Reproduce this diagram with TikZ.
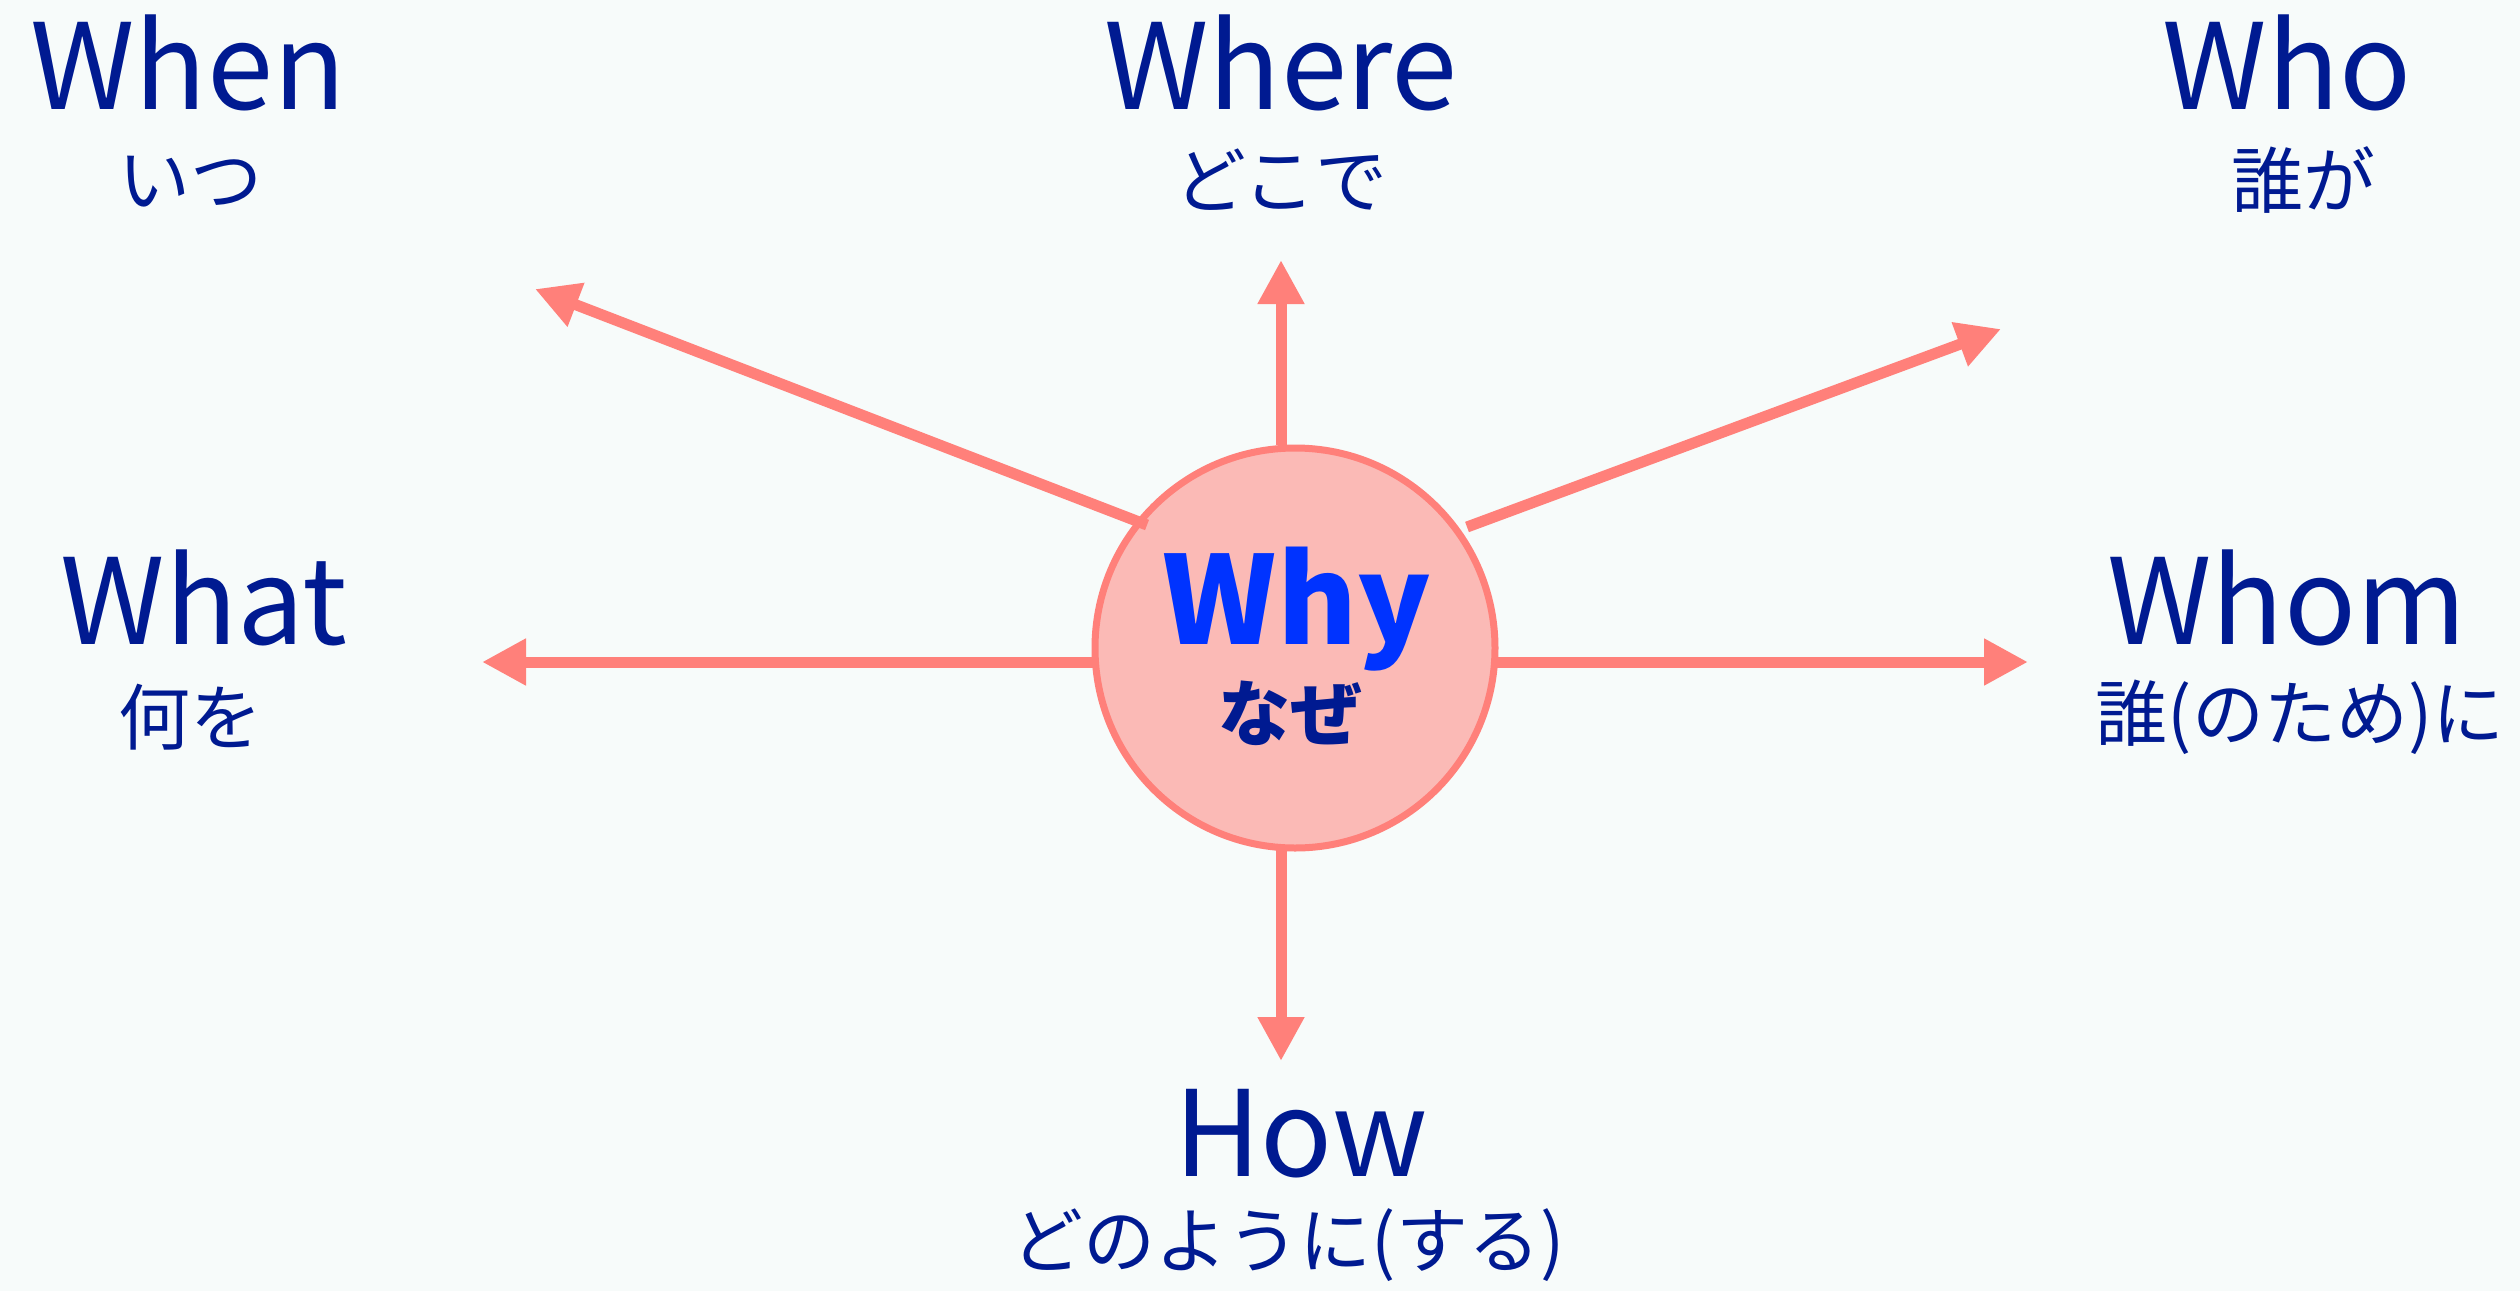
\documentclass[tikz,border=0pt]{standalone}
\usepackage{fontspec}
\setmainfont{Noto Sans CJK JP}
\usetikzlibrary{arrows.meta}
\definecolor{bg}{RGB}{247,251,250}
\definecolor{navy}{RGB}{0,26,145}
\definecolor{whyblue}{RGB}{0,51,255}
\definecolor{arr}{RGB}{255,128,122}
\definecolor{cfill}{RGB}{251,186,182}
\begin{document}
\begin{tikzpicture}[x=1pt,y=-1pt,
  en/.style={text=navy, font=\fontsize{119}{119}\selectfont, inner sep=0pt, anchor=base},
  jp/.style={text=navy, font=\fontsize{72}{72}\selectfont, inner sep=0pt, anchor=center},
  link/.style={draw=arr, line width=11pt, -{Triangle[length=44pt,width=44pt]}}]
\fill[bg] (0,0) rectangle (2520,1291);
\useasboundingbox (0,0) rectangle (2520,1291);

% centre circle
\node[circle, draw=arr, fill=cfill, line width=7pt, minimum size=400pt, inner sep=0pt] (why) at (1295,648) {};
\node[text=whyblue, font=\fontsize{122}{122}\selectfont\bfseries, inner sep=0pt, anchor=base] (whyen) at (1297,644) {Why};
\node[text=navy, font=\fontsize{72}{72}\selectfont\bfseries, inner sep=0pt, anchor=center] (whyjp) at (1290,713) {なぜ};

% labels
\node[en] (when) at (188,109) {When};
\node[jp] (whenjp) at (190,182) {いつ};
\node[en] (where) at (1281,109) {Where};
\node[jp] (wherejp) at (1281,180) {どこで};
\node[en] (who) at (2287,109) {Who};
\node[jp] (whojp) at (2303,180) {誰が};
\node[en] (what) at (204,644) {What};
\node[jp] (whatjp) at (190,717) {何を};
\node[en] (whom) at (2287,644) {Whom};
\node[jp] (whomjp) at (2300,717) {誰(のため)に};
\node[en] (how) at (1301,1176) {How};
\node[jp] (howjp) at (1288,1245) {どのように(する)};

% connector end points
\coordinate (ulS) at (1147,525);  \coordinate (ulT) at (535,289);
\coordinate (urS) at (1467,527);  \coordinate (urT) at (2001,329);
\coordinate (upS) at (1281,445);  \coordinate (upT) at (1281,260);
\coordinate (dnS) at (1281,848);  \coordinate (dnT) at (1281,1061);
\coordinate (lfS) at (1094,662);  \coordinate (lfT) at (482,662);
\coordinate (rtS) at (1496,662);  \coordinate (rtT) at (2028,662);

\draw[link] (ulS) -- (ulT);
\draw[link] (urS) -- (urT);
\draw[link] (upS) -- (upT);
\draw[link] (dnS) -- (dnT);
\draw[link] (lfS) -- (lfT);
\draw[link] (rtS) -- (rtT);
\end{tikzpicture}
\end{document}
